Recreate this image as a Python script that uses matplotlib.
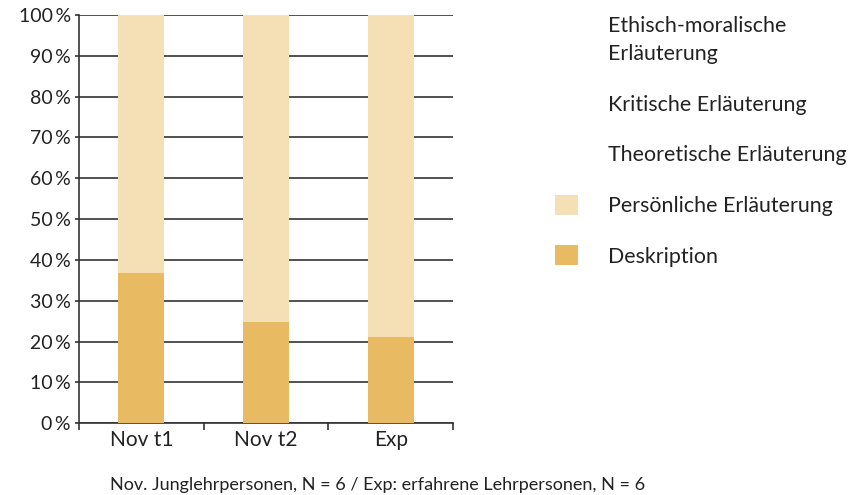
import matplotlib
matplotlib.use("Agg")
import matplotlib.pyplot as plt
from matplotlib.ticker import FixedLocator

plt.rcParams['font.family'] = ['Lato', 'DejaVu Sans']

categories = ["Nov t1", "Nov t2", "Exp"]
series_names = ["Deskription", "Persönliche Erläuterung", "Theoretische Erläuterung",
                "Kritische Erläuterung", "Ethisch-moralische\nErläuterung"]
deskription = [36.8, 24.9, 21.2]
persoenlich = [63.2, 75.1, 78.8]
theoretisch = [0, 0, 0]
kritisch = [0, 0, 0]
ethisch = [0, 0, 0]
series_values = [deskription, persoenlich, theoretisch, kritisch, ethisch]
series_colors = ["#E8BB62", "#F5DFB5", "white", "white", "white"]
yticks = list(range(0, 101, 10))
ytick_labels = [f"{v}\u2009%" for v in yticks]
footnote = "Nov. Junglehrpersonen, N = 6 / Exp: erfahrene Lehrpersonen, N = 6"

text_color = "#222222"
line_color = "#333333"

fig = plt.figure(figsize=(8.56, 4.95), dpi=100)
ax = fig.add_axes([79/856, 1-423.3/495, (453-79)/856, (423.3-15)/495])

x = list(range(len(categories)))
bottoms = [0.0] * len(categories)
handles = []
for name, vals, col in zip(series_names, series_values, series_colors):
    h = ax.bar(x, vals, width=0.368, bottom=bottoms, color=col, label=name, zorder=3, linewidth=0)
    handles.append(h)
    bottoms = [b + v for b, v in zip(bottoms, vals)]

ax.set_xlim(-0.5, 2.5)
ax.set_ylim(0, 100)
ax.set_yticks(yticks)
ax.set_yticklabels(ytick_labels)
ax.yaxis.grid(True, color=line_color, linewidth=1.2, zorder=1)
ax.set_axisbelow(True)

ax.xaxis.set_major_locator(FixedLocator([-0.5, 0.5, 1.5, 2.5]))
ax.xaxis.set_major_formatter(plt.NullFormatter())
ax.xaxis.set_minor_locator(FixedLocator(x))
ax.set_xticklabels(categories, minor=True)
ax.tick_params(axis='x', which='major', length=5, width=1.2, color=line_color)
ax.tick_params(axis='x', which='minor', length=0, pad=5, labelsize=15, labelcolor=text_color)
ax.tick_params(axis='y', length=3, width=1.2, color=line_color, labelsize=14, labelcolor=text_color, pad=3)

for s in ['top', 'right']:
    ax.spines[s].set_visible(False)
for s in ['left', 'bottom']:
    ax.spines[s].set_color(line_color)
    ax.spines[s].set_linewidth(1.2)

fs = 15.4
leg = fig.legend(handles[::-1], series_names[::-1], loc='upper left',
                 bbox_to_anchor=(555/856, 1-16/495), frameon=False, borderpad=0, borderaxespad=0,
                 fontsize=fs, labelspacing=1.37, handlelength=1.07, handleheight=1.07,
                 handletextpad=1.4, labelcolor=text_color)
for t in leg.get_texts():
    t.set_linespacing(1.5)

fig.text(110/856, 1-485/495, footnote, fontsize=13, color=text_color, va='center', ha='left')

fig.savefig("out.png", dpi=100)
